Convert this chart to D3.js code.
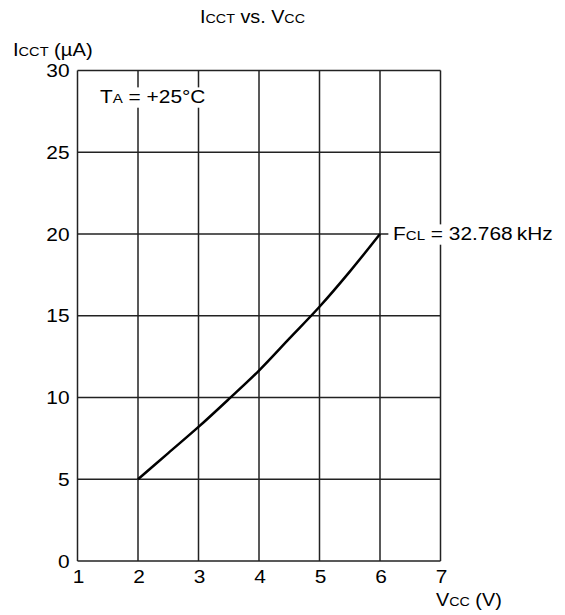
<!DOCTYPE html>
<html>
<head>
<meta charset="utf-8">
<script src="https://cdn.jsdelivr.net/npm/d3@7"></script>
<style>
  body { margin: 0; background: #fff; }
  text { font-family: "Liberation Sans", Arial, sans-serif; fill: #000; }
</style>
</head>
<body>
<div id="chart"></div>
<script>
// chart data
var vcc = [2, 2.5, 3, 3.5, 4, 4.5, 5, 5.5, 6];
var icct = [5, 6.6, 8.2, 9.9, 11.65, 13.6, 15.55, 17.7, 20];
var xTicks = [1, 2, 3, 4, 5, 6, 7];
var yTicks = [0, 5, 10, 15, 20, 25, 30];

var w = 565, h = 615;
var plotLeft = 77.5, plotTop = 70.5, plotRight = 440.5, plotBottom = 561;
var stretch = 1.16; // the reference type is a bit wider than Arial

var x = d3.scaleLinear().domain([1, 7]).range([plotLeft, plotRight]);
var y = d3.scaleLinear().domain([0, 30]).range([plotBottom, plotTop]);

var svg = d3.select("#chart")
    .append("svg")
    .attr("width", w)
    .attr("height", h);

// grid lines
var grid = svg.append("g")
    .attr("stroke", "#222")
    .attr("stroke-width", 1.5);

grid.selectAll("line.v")
    .data(xTicks)
    .enter()
    .append("line")
    .attr("class", "v")
    .attr("x1", d => x(d)).attr("x2", d => x(d))
    .attr("y1", y(0)).attr("y2", y(30));

grid.selectAll("line.h")
    .data(yTicks)
    .enter()
    .append("line")
    .attr("class", "h")
    .attr("x1", x(1)).attr("x2", x(7))
    .attr("y1", d => y(d)).attr("y2", d => y(d));

// tick labels
svg.append("g").selectAll("g")
    .data(xTicks)
    .enter()
    .append("g")
    .attr("transform", d => "translate(" + (x(d) + 1) + "," + (plotBottom + 22) + ") scale(" + stretch + ",1)")
    .append("text")
    .attr("text-anchor", "middle")
    .style("font-size", "18px")
    .text(d => d);

svg.append("g").selectAll("g")
    .data(yTicks)
    .enter()
    .append("g")
    .attr("transform", d => "translate(" + (plotLeft - 8) + "," + (y(d) + 6.5) + ") scale(" + stretch + ",1)")
    .append("text")
    .attr("text-anchor", "end")
    .style("font-size", "18px")
    .text(d => d);

// the curve
var line = d3.line()
    .x((d, i) => x(vcc[i]))
    .y(d => y(d))
    .curve(d3.curveCatmullRom);

svg.append("path")
    .datum(icct)
    .attr("d", line)
    .attr("fill", "none")
    .attr("stroke", "#000")
    .attr("stroke-width", 2.5);

// text with a small-caps style subscript, stretched like the reference
function label(px, py, parts, size, sx) {
    var g = svg.append("g")
        .attr("transform", "translate(" + px + "," + py + ") scale(" + sx + ",1)");
    var t = g.append("text").style("font-size", size + "px");
    parts.forEach(function (p) {
        var s = t.append("tspan").text(p[0]);
        if (p[1]) s.style("font-size", p[1] + "px");
    });
    return g;
}

// white box behind a label so the grid does not run through it
function whiteBox(g, padL, padR) {
    var b = g.select("text").node().getBBox();
    g.insert("rect", "text")
        .attr("x", b.x - padL).attr("y", b.y + 1)
        .attr("width", b.width + padL + padR).attr("height", b.height)
        .attr("fill", "#fff");
}

var ta = label(100, 103, [["T"], ["A", 13], [" = +25°C"]], 18, stretch);
whiteBox(ta, 3, 3);

var fcl = label(393, 240, [["F"], ["CL", 13], [" = 32.768\u2009kHz"]], 18, stretch);
whiteBox(fcl, 4, 3);

// title and axis names
label(200, 23, [["I"], ["CCT", 13], [" vs. V"], ["CC", 13]], 18, 1.1);

label(13, 56, [["I"], ["CCT", 13], [" (µA)"]], 18, 1.12);

label(436, 606, [["V"], ["CC", 13], [" (V)"]], 18, 1.1);
</script>
</body>
</html>
